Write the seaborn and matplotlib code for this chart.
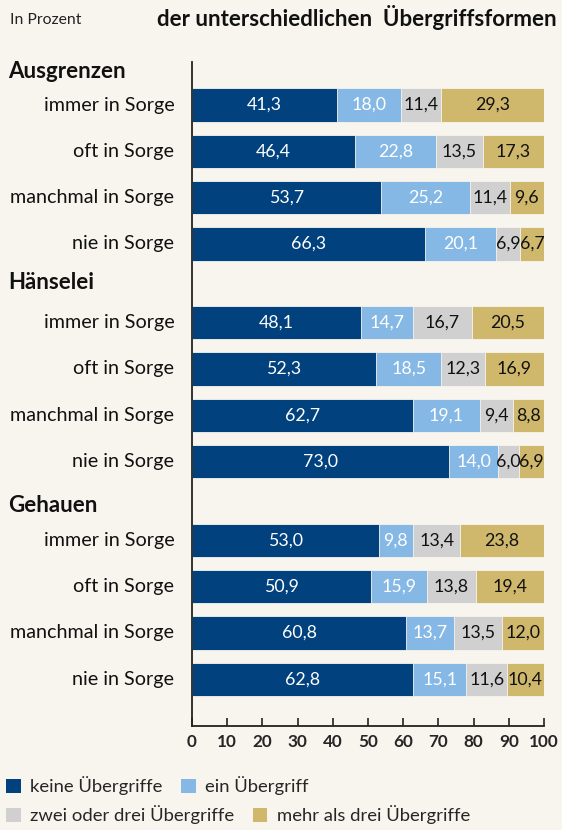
import numpy as np
import pandas as pd
import matplotlib
matplotlib.use("Agg")
import matplotlib.pyplot as plt
from matplotlib.patches import Patch
import seaborn as sns

# data (percent)
groups = ["Ausgrenzen", "Hänselei", "Gehauen"]
levels = ["immer in Sorge", "oft in Sorge", "manchmal in Sorge", "nie in Sorge"]
series = ["keine Übergriffe", "ein Übergriff", "zwei oder drei Übergriffe", "mehr als drei Übergriffe"]

keine = [41.3, 46.4, 53.7, 66.3, 48.1, 52.3, 62.7, 73.0, 53.0, 50.9, 60.8, 62.8]
ein = [18.0, 22.8, 25.2, 20.1, 14.7, 18.5, 19.1, 14.0, 9.8, 15.9, 13.7, 15.1]
zwei_drei = [11.4, 13.5, 11.4, 6.9, 16.7, 12.3, 9.4, 6.0, 13.4, 13.8, 13.5, 11.6]
mehr_drei = [29.3, 17.3, 9.6, 6.7, 20.5, 16.9, 8.8, 6.9, 23.8, 19.4, 12.0, 10.4]

colors = ["#00417e", "#85b8e5", "#d0d0d0", "#cfb76c"]
text_colors = ["white", "white", "#111111", "#111111"]
bg = "#f8f5ee"

# layout: row positions in "row units"
group_step = 4.7
header_offset = [0.72, 0.87, 0.76]
rows = []
for g, grp in enumerate(groups):
    for r, lev in enumerate(levels):
        rows.append((grp, lev, g * group_step + r))

df = pd.DataFrame(rows, columns=["gruppe", "sorge", "pos"])
vals = np.array([keine, ein, zwei_drei, mehr_drei]).T
for i, s in enumerate(series):
    df[s] = vals[:, i]
cum = np.cumsum(vals, axis=1)

sns.set_theme(style="white")
plt.rcParams["font.family"] = ["Lato", "DejaVu Sans"]

fig = plt.figure(figsize=(5.62, 8.30), dpi=100, facecolor=bg)
ax = fig.add_axes([192 / 562, 1 - 726 / 830, (544 - 192) / 562, (726 - 62) / 830])
ax.set_facecolor(bg)

# stacked bars: draw cumulative totals from largest to smallest
for i in range(3, -1, -1):
    d = df.copy()
    d["cum"] = cum[:, i]
    sns.barplot(data=d, x="cum", y="pos", orient="y", native_scale=True,
                color=colors[i], saturation=1, width=0.72, ax=ax,
                linewidth=0.6, edgecolor=bg)

# segment labels
for k in range(len(df)):
    left = 0.0
    for i in range(4):
        v = vals[k, i]
        ax.text(left + v / 2, df["pos"][k], f"{v:.1f}".replace(".", ","),
                ha="center", va="center", fontsize=12.8, color=text_colors[i])
        left += v

ax.set_xlim(0, 100)
ax.set_ylim(13.41, -0.93)
ax.set_xticks(range(0, 101, 10))
ax.set_yticks([])
ax.set_xlabel("")
ax.set_ylabel("")
ax.tick_params(axis="x", direction="in", length=6, width=1.2, color="#222222",
               labelsize=12.3, pad=6, bottom=True)
for lab in ax.get_xticklabels():
    lab.set_fontweight("bold")
sns.despine(ax=ax, top=True, right=True)
for sp in ["left", "bottom"]:
    ax.spines[sp].set_color("#222222")
    ax.spines[sp].set_linewidth(1.3)

# row labels and group headers
for k in range(len(df)):
    ax.text(-5, df["pos"][k], df["sorge"][k], ha="right", va="center",
            fontsize=14.2, color="#111111")
for g, grp in enumerate(groups):
    ax.text(-52.2, g * group_step - header_offset[g], grp, ha="left", va="center",
            fontsize=16, fontweight="bold", color="#111111")

fig.text(10 / 562, 1 - 20 / 830, "In Prozent", ha="left", va="center",
         fontsize=11.3, color="#222222")
fig.text(557 / 562, 1 - 17 / 830, "der unterschiedlichen  Übergriffsformen",
         ha="right", va="center", fontsize=16, fontweight="bold", color="#111111")

handles = [Patch(facecolor=c, edgecolor="none") for c in colors]
leg_kw = dict(loc="center left", ncol=2, frameon=False, fontsize=13.3,
              handlelength=0.8, handleheight=0.8, handletextpad=0.5,
              columnspacing=1.0, borderaxespad=0, borderpad=0)
fig.legend(handles[:2], series[:2], bbox_to_anchor=(6 / 562, 1 - 786 / 830), **leg_kw)
fig.legend(handles[2:], series[2:], bbox_to_anchor=(6 / 562, 1 - 815 / 830), **leg_kw)

fig.savefig("out.png", dpi=100, facecolor=bg)
